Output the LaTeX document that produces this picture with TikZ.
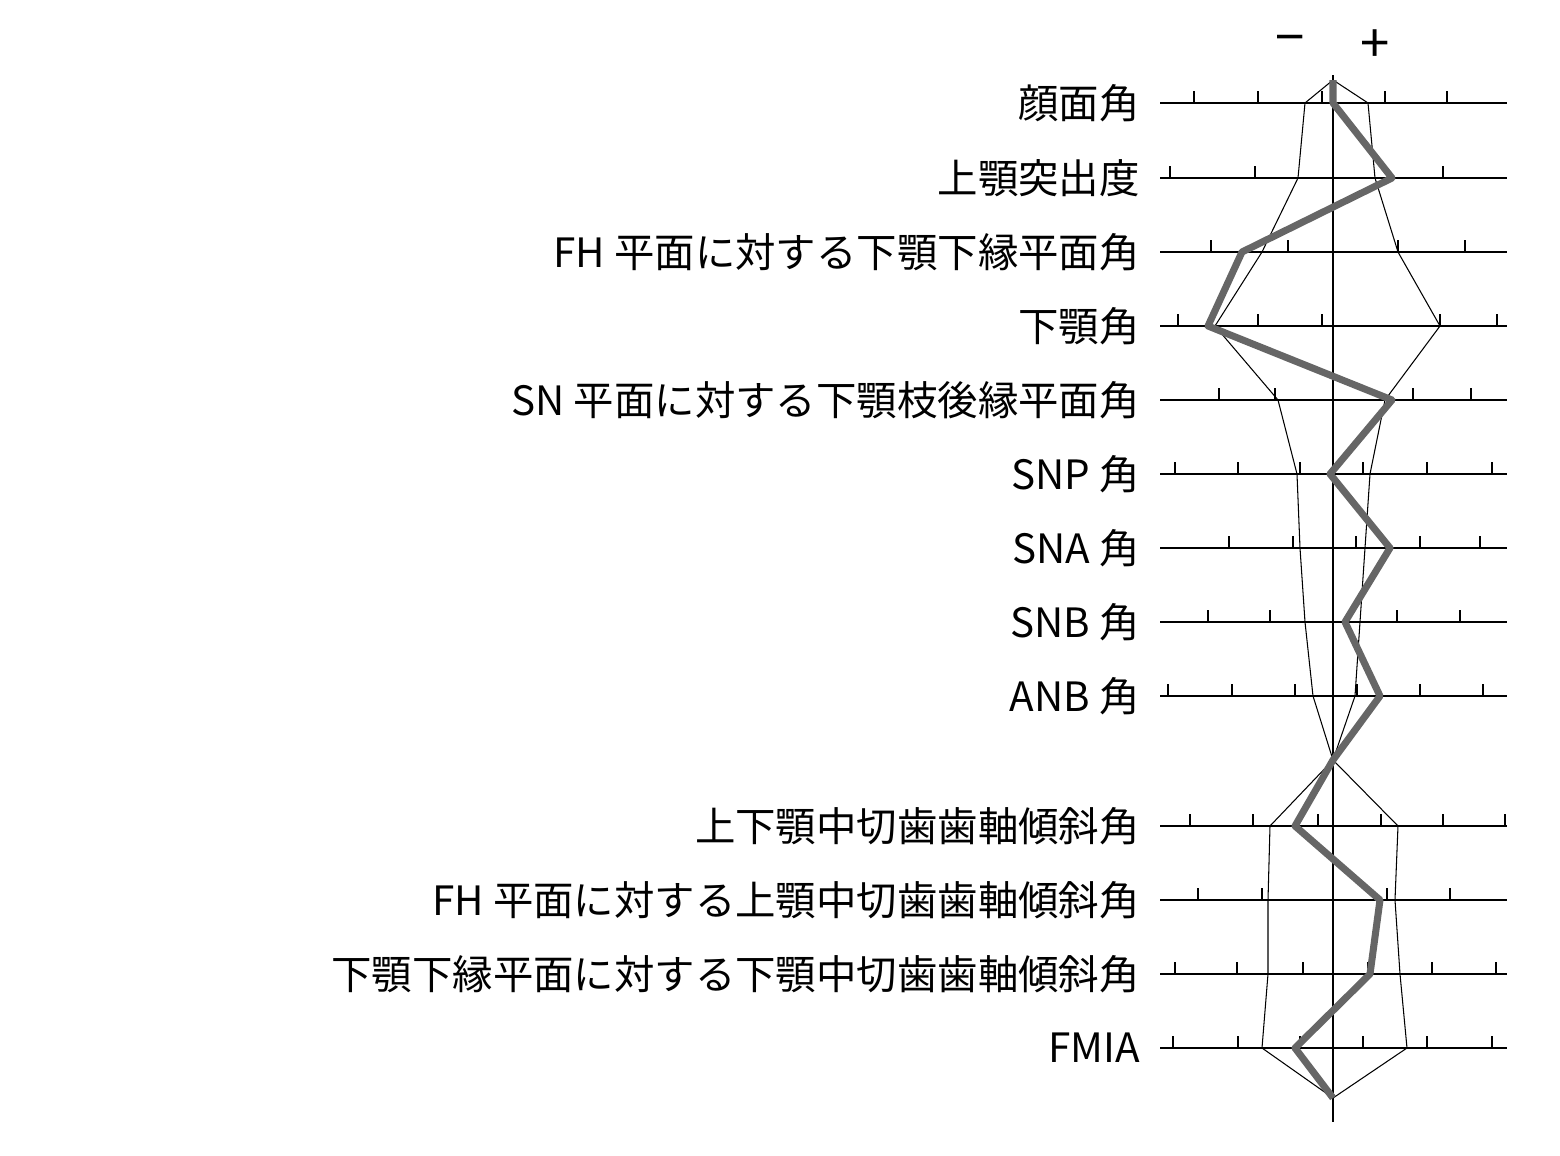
\documentclass[tikz,border=0pt]{standalone}
\usepackage{fontspec}
\setmainfont{Noto Sans CJK JP}
\usetikzlibrary{positioning}
\tikzstyle{rowlabel} = [anchor=east, inner sep=0pt, font=\fontsize{23}{27}\selectfont]
\tikzstyle{axis} = [line width=1.4pt]
\tikzstyle{tick} = [line width=0.8pt]
\tikzstyle{norm} = [line width=0.6pt]
\tikzstyle{patient} = [line width=4pt, gray!80!black, line join=round]

\begin{document}
\begin{tikzpicture}[x=0.02cm, y=-0.02cm]
\useasboundingbox (0,0) rectangle (1560,1156);
%Rows
\foreach \y/\txt/\nm in {103/顔面角/r1, 178/上顎突出度/r2, 252/FH 平面に対する下顎下縁平面角/r3, 326/下顎角/r4, 400/SN 平面に対する下顎枝後縁平面角/r5, 474/SNP 角/r6, 548/SNA 角/r7, 622/SNB 角/r8, 696/ANB 角/r9, 826/上下顎中切歯歯軸傾斜角/r10, 900/FH 平面に対する上顎中切歯歯軸傾斜角/r11, 974/下顎下縁平面に対する下顎中切歯歯軸傾斜角/r12, 1048/FMIA/r13}{
  \node (\nm) [rowlabel] at (1140,\y) {\txt};
  \draw [axis] (1160,\y) -- (1507,\y);
}
%Ticks
\foreach \y/\ticks in {103/{1194,1258,1322,1385,1447}, 178/{1170,1255,1443}, 252/{1211,1288,1398,1465}, 326/{1178,1258,1322,1440,1497}, 400/{1219,1275,1413,1471}, 474/{1175,1238,1300,1363,1427,1492}, 548/{1229,1293,1356,1420,1480}, 622/{1208,1270,1397,1460}, 696/{1168,1232,1295,1357,1420,1483}, 826/{1190,1253,1318,1381,1443,1505}, 900/{1198,1262,1387,1450}, 974/{1175,1237,1303,1368,1432,1496}, 1048/{1173,1238,1300,1363,1427,1492}}{
  \foreach \x in \ticks { \draw [tick] (\x,\y) -- (\x,\y-12); }
}
%Centre axis
\coordinate (top) at (1333,75);
\coordinate (bottom) at (1333,1122);
\draw [axis] (top) -- (bottom);
\node (minus) at (1290,46) {\fontsize{30}{30}\selectfont −};
\node (plus) at (1375,46) {\fontsize{30}{30}\selectfont +};
%Norm range
\draw [norm] (1333,80) -- (1305,103) -- (1298,178) -- (1262,252) -- (1215,326) -- (1278,400) -- (1297,474) -- (1300,548) -- (1305,622) -- (1313,696) -- (1333,760) -- (1270,826) -- (1268,900) -- (1268,974) -- (1262,1048) -- (1333,1098);
\draw [norm] (1333,80) -- (1368,103) -- (1375,178) -- (1398,252) -- (1440,326) -- (1385,400) -- (1370,474) -- (1365,548) -- (1360,622) -- (1355,696) -- (1333,760) -- (1398,826) -- (1395,900) -- (1400,974) -- (1407,1048) -- (1333,1098);
%Patient
\draw [patient] (1333,80) -- (1333,103) -- (1392,178) -- (1242,252) -- (1208,326) -- (1392,400) -- (1330,474) -- (1390,548) -- (1345,622) -- (1380,696) -- (1333,760) -- (1295,826) -- (1380,900) -- (1370,974) -- (1295,1048) -- (1333,1098);
\end{tikzpicture}
\end{document}
